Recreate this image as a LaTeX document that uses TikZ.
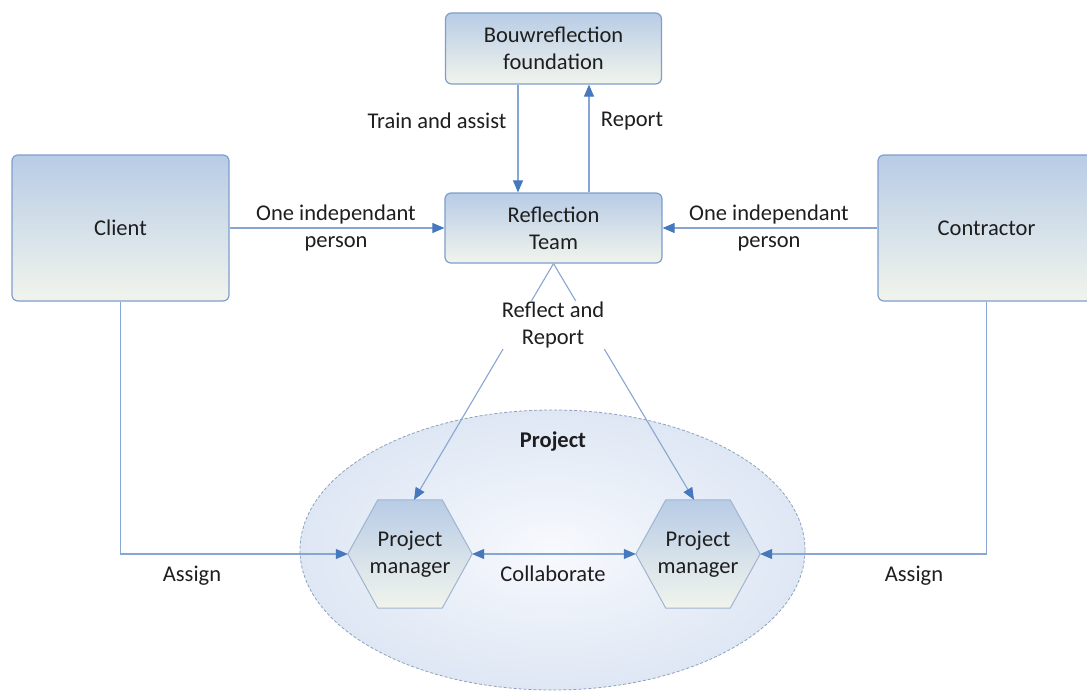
\documentclass[tikz,border=0pt]{standalone}
\usepackage{fontspec}
\setmainfont{Carlito}
\usetikzlibrary{arrows.meta,calc,backgrounds,shapes.geometric}
\definecolor{boxedge}{RGB}{126,158,204}
\definecolor{hexedge}{RGB}{160,180,208}
\definecolor{boxtop}{RGB}{184,204,230}
\definecolor{boxbot}{RGB}{241,244,236}
\definecolor{lnc}{RGB}{135,166,210}
\definecolor{tipc}{RGB}{70,120,190}
\definecolor{txt}{RGB}{30,30,30}
\definecolor{ellin}{RGB}{247,249,253}
\definecolor{ellout}{RGB}{222,231,244}
\definecolor{elledge}{RGB}{143,160,190}
\begin{document}
\begin{tikzpicture}[x=1pt,y=-1pt, font=\fontsize{22.5}{27}\selectfont, text=txt,
  box/.style={draw=boxedge, line width=1.2pt, rounded corners=6pt, top color=boxtop, bottom color=boxbot, align=center, inner sep=0pt},
  conn/.style={draw=lnc, line width=1.1pt, -{Triangle[length=12pt,width=10pt,color=tipc]}},
  lbl/.style={align=center, inner sep=1pt},
  hexn/.style={minimum width=124pt, minimum height=108pt, inner sep=0pt, align=center},
  hexfill/.style={draw=hexedge, line width=1pt, top color=boxtop, bottom color=boxbot}]
\useasboundingbox (0,0) rectangle (1087,693);

% boxes
\node[box, minimum width=216pt, minimum height=71pt] (bf) at (553.5,48.5) {Bouwreflection\\foundation};
\node[box, minimum width=217pt, minimum height=70pt] (rt) at (553.5,228) {Reflection\\Team};
\node[box, minimum width=217pt, minimum height=146pt] (cl) at (120.5,228) {Client};
\node[box, minimum width=217pt, minimum height=146pt] (co) at (986.5,228) {Contractor};

% project ellipse and hexagons
\node[hexn] (hl) at (410,554) {Project\\manager};
\node[hexn] (hr) at (698,554) {Project\\manager};
\begin{scope}[on background layer]
  \node[ellipse, draw=elledge, line width=0.8pt, dash pattern=on 3pt off 2pt, inner color=ellin, outer color=ellout, minimum width=505pt, minimum height=280pt] (proj) at (552.5,550) {};
  \foreach \h in {hl,hr}
    \path[hexfill] (\h.west) -- ($(\h.north west)+(30,0)$) -- ($(\h.north east)+(-30,0)$) -- (\h.east) -- ($(\h.south east)+(-30,0)$) -- ($(\h.south west)+(30,0)$) -- cycle;
\end{scope}
\node[font=\fontsize{22.5}{27}\selectfont\bfseries] (projlbl) at (553,442) {Project};

% connectors
\draw[conn] ($(bf.south)+(-35.5,0)$) -- ($(rt.north)+(-35.5,0)$);
\draw[conn] ($(rt.north)+(35.5,0)$) -- ($(bf.south)+(35.5,0)$);
\node[lbl] (ta) at (437,121) {Train and assist};
\node[lbl] (rp) at (632,121) {Report};

\draw[conn] (cl.east) -- (rt.west);
\node[lbl] (oip1) at (336,228) {One independant\\person};
\draw[conn] (co.west) -- (rt.east);
\node[lbl] (oip2) at (769,228) {One independant\\person};

\draw[conn] (rt.south) -- ($(hl.north)+(4,0)$);
\draw[conn] (rt.south) -- ($(hr.north)+(-4,0)$);
\node[lbl, fill=white] (rr) at (553,325) {Reflect and\\Report};

\draw[conn] (cl.south) |- (hl.west);
\node[lbl] (as1) at (192,576) {Assign};
\draw[conn] (co.south) |- (hr.east);
\node[lbl] (as2) at (914,576) {Assign};

\draw[conn, {Triangle[length=12pt,width=10pt,color=tipc]}-{Triangle[length=12pt,width=10pt,color=tipc]}] (hl.east) -- (hr.west);
\node[lbl] (col) at (553,574) {Collaborate};
\end{tikzpicture}
\end{document}
